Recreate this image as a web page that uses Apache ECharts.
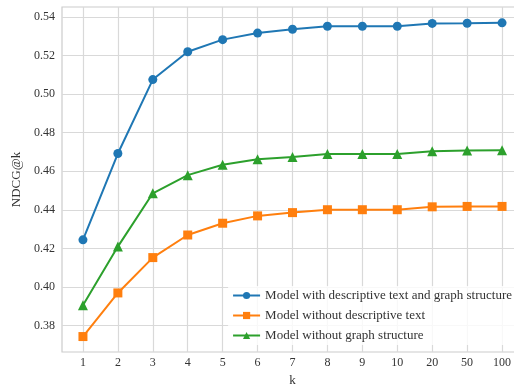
<!DOCTYPE html>
<html><head><meta charset="utf-8">
<script src="https://cdn.jsdelivr.net/npm/echarts@6/dist/echarts.min.js"></script>
<style>html,body{margin:0;padding:0;background:#fff}#c{width:514px;height:385px}</style>
</head><body><div id="c"></div>
<script>
const categories = ['1','2','3','4','5','6','7','8','9','10','20','50','100'];
const seriesNames = ['Model with descriptive text and graph structure','Model without descriptive text','Model without graph structure'];
const withBoth = [0.4245,0.4692,0.5075,0.5219,0.5282,0.5316,0.5336,0.5351,0.5351,0.5351,0.5366,0.5367,0.5369];
const withoutText = [0.3744,0.3970,0.4153,0.4270,0.4331,0.4369,0.4386,0.4401,0.4401,0.4401,0.4416,0.4418,0.4418];
const withoutGraph = [0.3906,0.4210,0.4486,0.4580,0.4634,0.4662,0.4674,0.4690,0.4690,0.4690,0.4704,0.4708,0.4709];
const yTicks = [0.38,0.40,0.42,0.44,0.46,0.48,0.50,0.52,0.54];

const font = "'Liberation Serif', 'Times New Roman', 'DejaVu Serif', serif";
const xIdx = categories.map((c,i)=>i);
const toPts = arr => arr.map((v,i)=>[xIdx[i],v]);
const colors = ['#1f77b4','#ff7f0e','#2ca02c'];
const symbols = ['circle','rect','triangle'];
const sizes = [9,9,10];
const datas = [withBoth, withoutText, withoutGraph];

const chart = echarts.init(document.getElementById('c'), null, {renderer:'canvas'});
chart.setOption({
  animation:false,
  backgroundColor:'#fff',
  textStyle:{fontFamily:font},
  grid:{left:62, right:-9, top:7, bottom:33, show:true, borderColor:'#cccccc', borderWidth:1.2,
    containLabel:false, outerBoundsMode:'none'},
  xAxis:{type:'value', min:-0.6, max:12.6,
    name:'k', nameLocation:'middle', nameGap:21,
    nameTextStyle:{fontFamily:font, fontSize:13, color:'#333'},
    axisLine:{show:false},
    axisTick:{show:false, customValues:xIdx},
    axisLabel:{fontFamily:font, fontSize:12, color:'#333', margin:5, customValues:xIdx,
      formatter:v=> categories[Math.round(v)]},
    splitLine:{show:true, lineStyle:{color:'#d9d9d9', width:1.2}}
  },
  yAxis:{type:'value', min:0.3664, max:0.5451,
    name:'NDCG@k', nameLocation:'middle', nameGap:36,
    nameTextStyle:{fontFamily:font, fontSize:13, color:'#333'},
    axisLine:{show:false},
    axisTick:{show:false, customValues:yTicks},
    axisLabel:{fontFamily:font, fontSize:12, color:'#333', margin:7, customValues:yTicks,
      formatter:v=>v.toFixed(2)},
    splitLine:{show:true, lineStyle:{color:'#d9d9d9', width:1.2}}
  },
  legend:{orient:'vertical', right:-2, bottom:40, itemWidth:27, itemHeight:9, itemGap:8, itemGap:7,
    backgroundColor:'rgba(255,255,255,0.8)', padding:[3,4,3,4],
    textStyle:{fontFamily:font, fontSize:13, color:'#333'},
    data:seriesNames},
  series: datas.map((d,i)=>({
    name:seriesNames[i], type:'line', data:toPts(d),
    symbol:symbols[i], symbolSize:sizes[i], showSymbol:true,
    lineStyle:{color:colors[i], width:2}, itemStyle:{color:colors[i]}
  }))
});
</script></body></html>
